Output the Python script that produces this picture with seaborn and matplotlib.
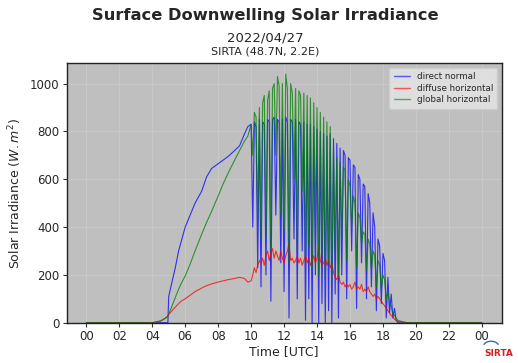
import matplotlib
matplotlib.use("Agg")
import matplotlib.pyplot as plt
import seaborn as sns
import pandas as pd
from matplotlib.patches import Arc

# ---------------- data ----------------
hours = [0.0, 4.0, 4.5, 4.8, 4.95, 5.0, 5.2, 5.4, 5.6, 5.8, 6.0, 6.3, 6.6, 7.0, 7.3, 7.6,
         8.0, 8.3, 8.6, 9.0, 9.3, 9.6, 9.8,
         10.0, 10.1, 10.2, 10.3, 10.4, 10.5, 10.6, 10.7, 10.8, 10.9,
         11.0, 11.1, 11.2, 11.3, 11.4, 11.5, 11.6, 11.7, 11.8, 11.9,
         12.0, 12.1, 12.2, 12.3, 12.4, 12.5, 12.6, 12.7, 12.8, 12.9,
         13.0, 13.1, 13.2, 13.3, 13.4, 13.5, 13.6, 13.7, 13.8, 13.9,
         14.0, 14.1, 14.2, 14.3, 14.4, 14.5, 14.6, 14.7, 14.8, 14.9,
         15.0, 15.1, 15.2, 15.3, 15.4, 15.5, 15.6, 15.7, 15.8, 15.9,
         16.0, 16.1, 16.2, 16.3, 16.4, 16.5, 16.6, 16.7, 16.8, 16.9,
         17.0, 17.1, 17.2, 17.3, 17.4, 17.5, 17.6, 17.7, 17.8, 17.9,
         18.0, 18.1, 18.2, 18.3, 18.4, 18.5, 18.6, 18.7, 18.8, 18.9,
         19.25, 19.5, 24.0]

direct_normal = [0, 0, 0, 0, 0, 110, 170, 230, 300, 350, 400, 450, 500, 550, 610, 645,
                 665, 680, 695, 720, 740, 790, 820,
                 830, 400, 840, 820, 230, 850, 150, 840, 830, 200,
                 850, 840, 90, 850, 860, 450, 850, 840, 250, 850,
                 130, 860, 840, 20, 850, 840, 350, 850, 100, 840,
                 830, 300, 840, 10, 830, 100, 830, 0, 820, 200,
                 810, 0, 800, 80, 790, 0, 780, 50, 790, 0,
                 770, 120, 750, 20, 730, 200, 720, 700, 100, 690,
                 680, 300, 660, 650, 60, 620, 600, 250, 580, 570,
                 100, 540, 500, 150, 460, 400, 50, 350, 320, 80,
                 290, 260, 20, 190, 40, 120, 20, 60, 10, 0,
                 0, 0, 0]

diffuse_horizontal = [0, 0, 6, 18, 28, 35, 50, 65, 80, 92, 100, 115, 130, 145, 155, 162,
                      170, 175, 180, 185, 190, 185, 170,
                      175, 200, 230, 210, 240, 260, 250, 270, 240, 280,
                      300, 260, 290, 310, 270, 300, 280, 260, 300, 270,
                      250, 280, 300, 330, 260, 270, 250, 260, 280, 250,
                      270, 240, 260, 280, 250, 270, 240, 260, 280, 250,
                      270, 320, 260, 240, 250, 270, 240, 260, 230, 250,
                      210, 190, 180, 200, 170, 160, 170, 150, 160, 150,
                      160, 140, 150, 170, 140, 150, 140, 160, 130, 140,
                      130, 150, 130, 120, 110, 120, 100, 110, 100, 90,
                      80, 70, 60, 50, 40, 30, 25, 15, 10, 5,
                      2, 0, 0]

global_horizontal = [0, 0, 8, 20, 28, 35, 70, 105, 140, 170, 195, 245, 300, 370, 420, 465,
                     530, 580, 625, 680, 720, 760, 780,
                     830, 700, 880, 860, 420, 900, 350, 920, 950, 360,
                     930, 970, 300, 980, 1000, 700, 1030, 990, 450, 1000,
                     380, 1040, 980, 250, 1000, 960, 600, 980, 300, 970,
                     950, 550, 960, 230, 950, 320, 940, 220, 920, 420,
                     900, 200, 880, 280, 860, 180, 840, 250, 820, 170,
                     730, 300, 690, 200, 670, 350, 650, 640, 260, 600,
                     570, 400, 530, 500, 230, 460, 440, 330, 380, 370,
                     220, 350, 330, 220, 300, 280, 150, 260, 240, 140,
                     200, 180, 100, 130, 80, 70, 40, 30, 20, 10,
                     3, 0, 0]

series_names = ["direct normal", "diffuse horizontal", "global horizontal"]
series_colors = ["blue", "red", "green"]
tick_hours = [0, 2, 4, 6, 8, 10, 12, 14, 16, 18, 20, 22, 24]
tick_labels = ["00", "02", "04", "06", "08", "10", "12", "14", "16", "18", "20", "22", "00"]
y_ticks = [0, 200, 400, 600, 800, 1000]

df = pd.DataFrame({
    "hour": hours * 3,
    "value": direct_normal + diffuse_horizontal + global_horizontal,
    "series": [series_names[0]] * len(hours) + [series_names[1]] * len(hours)
              + [series_names[2]] * len(hours),
})

# ---------------- figure ----------------
sns.set_style("whitegrid")
plt.rcParams["font.family"] = ["DejaVu Sans"]

fig = plt.figure(figsize=(5.18, 3.63), dpi=100)
ax = fig.add_axes([0.1284, 0.111, 0.840, 0.7146])
ax.set_facecolor("#bfbfbf")

for name, col in zip(series_names, series_colors):
    sub = df[df["series"] == name]
    sns.lineplot(data=sub, x="hour", y="value", ax=ax, color=col, lw=0.8,
                 alpha=0.75, label=name, sort=False, estimator=None)

ax.set_xlim(-1.2, 25.2)
ax.set_ylim(0, 1085)
ax.set_xticks(tick_hours)
ax.set_xticklabels(tick_labels)
ax.set_yticks(y_ticks)
ax.tick_params(axis="both", labelsize=8.5, length=3, width=0.8, color="#333333",
               direction="out", bottom=True, left=True, pad=2)
ax.grid(True, color="#cdcdcd", lw=0.5)
for s in ax.spines.values():
    s.set_visible(True)
    s.set_color("#222222")
    s.set_linewidth(1.0)

ax.set_xlabel("Time [UTC]", fontsize=9, labelpad=2)
ax.set_ylabel("Solar Irradiance ($W.m^2$)", fontsize=9, labelpad=4)

leg = ax.legend(loc="upper right", fontsize=6.3, frameon=True, framealpha=0.8,
                facecolor="#e6e6e6", edgecolor="#cccccc", borderpad=0.5,
                handlelength=1.8, labelspacing=0.3)
for lh in leg.get_lines():
    lh.set_alpha(0.6)
    lh.set_linewidth(1.0)

fig.text(0.512, 0.958, "Surface Downwelling Solar Irradiance", ha="center", va="center",
         fontsize=11.7, fontweight="bold")
fig.text(0.512, 0.895, "2022/04/27", ha="center", va="center", fontsize=9.5)
fig.text(0.512, 0.858, "SIRTA (48.7N, 2.2E)", ha="center", va="center", fontsize=8)

# SIRTA logo
fig.text(0.962, 0.025, "SIRTA", ha="center", va="center", fontsize=6.5,
         fontweight="bold", color="#d42020")
fig.patches.append(Arc((0.948, 0.045), 0.03, 0.03, theta1=20, theta2=160,
                       transform=fig.transFigure, color="#3070c0", lw=1.0))

fig.savefig("out.png", dpi=100)
